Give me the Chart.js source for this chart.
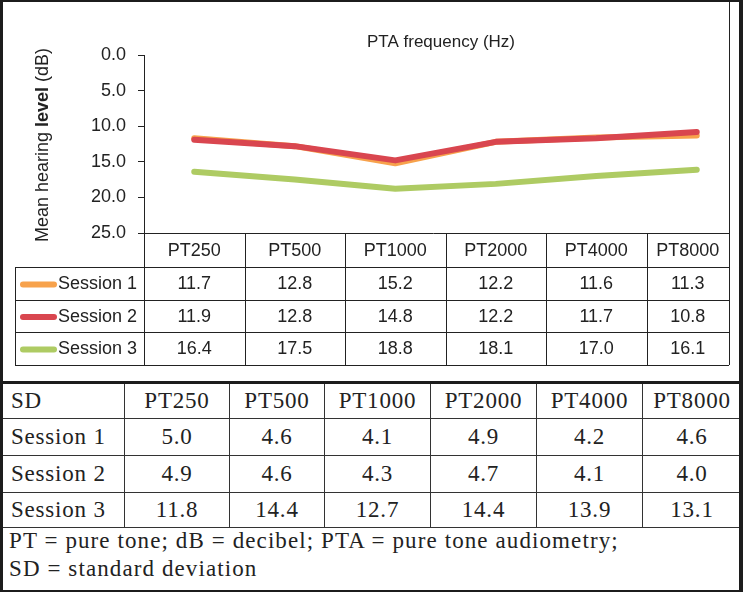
<!DOCTYPE html>
<html>
<head>
<meta charset="utf-8">
<script src="https://cdn.jsdelivr.net/npm/chart.js@4"></script>
<style>
  body { margin: 0; background: #fff; }
  #wrap { position: relative; width: 743px; height: 592px; overflow: hidden; background: #fff; }
  #chartBox { position: absolute; left: 0; top: 0; width: 760px; height: 382px; }
  .bar { position: absolute; background: #1c1c1c; }
  #sd { position: absolute; left: 2px; top: 383px; border-collapse: collapse; table-layout: fixed;
        font-family: 'Liberation Serif', 'Times New Roman', serif; font-size: 23px; color: #222; letter-spacing: 0.8px; }
  #sd td { border: 1px solid #333; text-align: center; padding: 0; white-space: nowrap; }
  #sd td.first { text-align: left; padding-left: 8px; }
  #note { position: absolute; left: 9px; top: 527px; font-family: 'Liberation Serif', 'Times New Roman', serif;
          font-size: 23px; line-height: 28px; color: #222; letter-spacing: 1.1px; }
</style>
</head>
<body>
<div id="wrap">
  <div id="chartBox"><canvas id="hearing-chart"></canvas></div>
  <table id="sd"></table>
  <div id="note">PT = pure tone; dB = decibel; PTA = pure tone audiometry;<br>SD = standard deviation</div>
  <div class="bar" style="left:0;top:0;width:743px;height:2px"></div>
  <div class="bar" style="left:0;top:0;width:3px;height:592px"></div>
  <div class="bar" style="left:739px;top:0;width:4px;height:592px"></div>
  <div class="bar" style="left:0;top:590px;width:743px;height:2px"></div>
  <div class="bar" style="left:0;top:381px;width:743px;height:3px"></div>
</div>
<script>
// Datos del gráfico
const categories = ['PT250', 'PT500', 'PT1000', 'PT2000', 'PT4000', 'PT8000'];
const seriesNames = ['Session 1', 'Session 2', 'Session 3'];
const session1 = [11.7, 12.8, 15.2, 12.2, 11.6, 11.3];
const session2 = [11.9, 12.8, 14.8, 12.2, 11.7, 10.8];
const session3 = [16.4, 17.5, 18.8, 18.1, 17.0, 16.1];
const yMin = 0, yMax = 25, yStep = 5;

// Desviación estándar (tabla inferior)
const sdSession1 = [5.0, 4.6, 4.1, 4.9, 4.2, 4.6];
const sdSession2 = [4.9, 4.6, 4.3, 4.7, 4.1, 4.0];
const sdSession3 = [11.8, 14.4, 12.7, 14.4, 13.9, 13.1];

const colors = ['#F7A24C', '#D9464F', '#AECB63'];
const sansFont = "'Liberation Sans', Arial, sans-serif";

// tabla SD en HTML
const sdWidths = [122, 105, 95, 106, 106, 106, 99];
const sdHeights = [35, 37, 37, 35];
const sdRows = [['SD'].concat(categories)];
[sdSession1, sdSession2, sdSession3].forEach((arr, i) => {
    sdRows.push([seriesNames[i]].concat(arr.map(v => v.toFixed(1))));
});
const table = document.getElementById('sd');
const cg = document.createElement('colgroup');
sdWidths.forEach(w => { const c = document.createElement('col'); c.style.width = w + 'px'; cg.appendChild(c); });
table.appendChild(cg);
table.style.width = sdWidths.reduce((a, b) => a + b, 0) + 'px';
sdRows.forEach((row, r) => {
    const tr = document.createElement('tr');
    tr.style.height = sdHeights[r] + 'px';
    row.forEach((txt, c) => {
        const td = document.createElement('td');
        td.textContent = txt;
        if (c === 0) td.className = 'first';
        tr.appendChild(td);
    });
    table.appendChild(tr);
});

// Plugin: título, título del eje y y la tabla de datos bajo el gráfico
const tablePlugin = {
    id: 'dataTable',
    afterDraw(chart) {
        const ctx = chart.ctx;
        const xs = chart.scales.x;
        const area = chart.chartArea;
        const step = xs.getPixelForValue(1) - xs.getPixelForValue(0);
        const rightEdge = 729;
        const rowLines = [267, 300, 332, 365];
        const legendLeft = 15;

        ctx.save();
        // título
        ctx.fillStyle = '#222';
        ctx.font = '17px ' + sansFont;
        ctx.textAlign = 'center';
        ctx.textBaseline = 'middle';
        ctx.fillText('PTA frequency (Hz)', 441, 42);

        // título eje Y con "level" en negrita
        const parts = [['Mean hearing ', '18px '], ['level', 'bold 18px '], [' (dB)', '18px ']];
        let total = 0;
        parts.forEach(p => { ctx.font = p[1] + sansFont; total += ctx.measureText(p[0]).width; });
        ctx.save();
        ctx.translate(43, (area.top + area.bottom) / 2 + 1);
        ctx.rotate(-Math.PI / 2);
        ctx.textAlign = 'left';
        let px = -total / 2;
        parts.forEach(p => { ctx.font = p[1] + sansFont; ctx.fillText(p[0], px, 0); px += ctx.measureText(p[0]).width; });
        ctx.restore();

        // líneas de la tabla
        ctx.strokeStyle = '#222';
        ctx.lineWidth = 1;
        ctx.beginPath();
        ctx.moveTo(area.left - 6, area.bottom + 0.5);
        ctx.lineTo(rightEdge, area.bottom + 0.5);
        rowLines.forEach(y => { ctx.moveTo(legendLeft, y + 0.5); ctx.lineTo(rightEdge, y + 0.5); });
        ctx.moveTo(legendLeft + 0.5, rowLines[0]);
        ctx.lineTo(legendLeft + 0.5, rowLines[3]);
        categories.forEach((c, i) => {
            const bx = Math.round(xs.getPixelForValue(i) - step / 2) + 0.5;
            ctx.moveTo(bx, area.bottom);
            ctx.lineTo(bx, rowLines[3]);
        });
        ctx.moveTo(rightEdge + 0.5, 0);
        ctx.lineTo(rightEdge + 0.5, rowLines[3]);
        ctx.stroke();

        // textos de la tabla
        ctx.font = '18px ' + sansFont;
        ctx.textAlign = 'center';
        const colCenter = i => {
            const l = xs.getPixelForValue(i) - step / 2;
            const r = Math.min(xs.getPixelForValue(i) + step / 2, rightEdge);
            return (l + r) / 2;
        };
        categories.forEach((c, i) => ctx.fillText(c, colCenter(i), (area.bottom + rowLines[0]) / 2 + 1));
        chart.data.datasets.forEach((ds, k) => {
            const yc = (rowLines[k] + rowLines[k + 1]) / 2 + 1;
            ctx.save();
            ctx.strokeStyle = ds.borderColor;
            ctx.lineWidth = 6;
            ctx.lineCap = 'round';
            ctx.beginPath();
            ctx.moveTo(23, yc);
            ctx.lineTo(54, yc);
            ctx.stroke();
            ctx.restore();
            ctx.textAlign = 'left';
            ctx.fillText(ds.label, 58, yc);
            ctx.textAlign = 'center';
            ds.data.forEach((v, i) => ctx.fillText(v.toFixed(1), colCenter(i), yc));
        });
        ctx.restore();
    }
};

const ctx = document.getElementById('hearing-chart').getContext('2d');
const hearingChart = new Chart(ctx, {
    type: 'line',
    data: {
        labels: categories,
        datasets: [
            { label: seriesNames[0], data: session1, borderColor: colors[0], order: 1 },
            { label: seriesNames[1], data: session2, borderColor: colors[1], order: 0 },
            { label: seriesNames[2], data: session3, borderColor: colors[2], order: 2 }
        ]
    },
    options: {
        responsive: true,
        maintainAspectRatio: false,
        devicePixelRatio: 1,
        animation: false,
        layout: { padding: { top: 55, bottom: 149, left: 0, right: 13 } },
        elements: {
            line: { borderWidth: 6, tension: 0, borderCapStyle: 'round', borderJoinStyle: 'round', fill: false },
            point: { radius: 0, hoverRadius: 0 }
        },
        plugins: {
            legend: { display: false },
            title: { display: false },
            tooltip: { enabled: false }
        },
        scales: {
            x: { type: 'category', display: false, offset: true },
            y: {
                reverse: true,
                min: yMin,
                max: yMax,
                afterFit: scale => { scale.width = 144; },
                ticks: {
                    stepSize: yStep,
                    padding: 12,
                    color: '#222',
                    font: { size: 18, family: sansFont },
                    callback: v => Number(v).toFixed(1)
                },
                grid: { drawOnChartArea: false, drawTicks: true, tickLength: 6, color: '#222' },
                border: { display: true, color: '#222', width: 1 }
            }
        }
    },
    plugins: [tablePlugin]
});
</script>
</body>
</html>
